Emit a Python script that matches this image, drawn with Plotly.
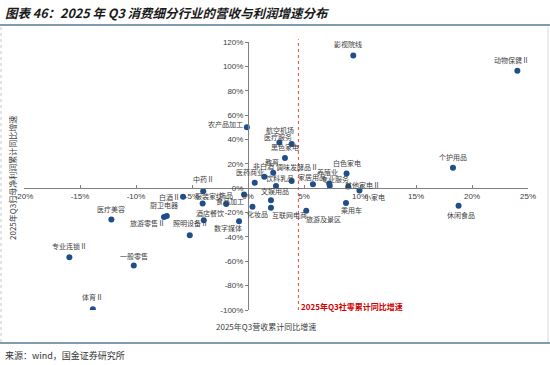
import plotly.graph_objects as go

# ---------------- data ----------------
industries = ["影视院线","动物保健Ⅱ","个护用品","休闲食品","农产品加工","航空机场","医疗服务","黑色家电","教育",
              "非白酒","医药商业","调味发酵品Ⅱ","饮料乳品","家居用品","养殖业","专业服务","白色家电","其他家电Ⅱ",
              "小家电","乘用车","旅游及景区","互联网电商","文娱用品","化妆品","数字媒体","饰品","食品加工","服装家纺",
              "中药Ⅱ","白酒Ⅱ","照明设备Ⅱ","酒店餐饮","厨卫电器","旅游零售Ⅱ","医疗美容","一般零售","专业连锁Ⅱ","体育Ⅱ"]
revenue_growth = [9.4, 24.05, 18.3, 18.8, -0.1, 2.8, 3.9, 3.3, 2.25,
                  1.45, 0.6, 3.9, 2.5, 5.8, 7.25, 7.3, 8.8, 8.95,
                  9.95, 8.75, 5.2, 2.05, 2.05, 0.4, -0.8, -1.95, -0.35, -4.05,
                  -4.0, -5.8, -5.2, -3.95, -7.5, -7.25, -12.2, -10.2, -15.95, -13.85]
profit_growth = [109, 96.4, 16.7, -14.5, 50, 37.5, 36.2, 24.7, 12.7,
                 9.4, 4.4, 5.8, 1.8, 3.3, 3.8, 1.9, 12.1, 1.3,
                 -1.9, -12.1, -18.6, -16, -10, -15.3, -27.2, -12.9, -5.2, -12.6,
                 -2.5, -7.1, -38.6, -26.3, -23.6, -22.8, -25.7, -63.5, -56.7, -99.4]
retail_sales_growth = 4.5

x_tick_vals = [-20, -15, -10, -5, 0, 5, 10, 15, 20, 25]
x_tick_text = ["-20%", "-15%", "-10%", "-5%", "0%", "5%", "10%", "15%", "20%", "25%"]
y_tick_vals = [-100, -80, -60, -40, -20, 0, 20, 40, 60, 80, 100, 120]
y_tick_text = ["-100%", "-80%", "-60%", "-40%", "-20%", "0%", "20%", "40%", "60%", "80%", "100%", "120%"]

title_text = "图表 46：2025 年 Q3 消费细分行业的营收与利润增速分布"
x_title = "2025年Q3营收累计同比增速"
y_title = "2025年Q3归母净利润累计同比增速"
line_label = "2025年Q3社零累计同比增速"
source_text = "来源：wind，国金证券研究所"

# ---------------- style ----------------
label_offsets = {
    "影视院线": (-5, 11), "动物保健Ⅱ": (-6, 11), "个护用品": (0, 11), "休闲食品": (2, -9),
    "农产品加工": (-21, 3), "航空机场": (1, 13), "医疗服务": (-14, 7), "黑色家电": (0, 11),
    "教育": (-1, 11), "非白酒": (-1, 11), "医药商业": (-5, 11), "调味发酵品Ⅱ": (5, 14),
    "饮料乳品": (4, 8), "家居用品": (-1, 7), "养殖业": (-2, 12), "专业服务": (5, 7),
    "白色家电": (0, 10), "其他家电Ⅱ": (14, 2), "小家电": (15, -6), "乘用车": (5, -7),
    "旅游及景区": (17, -8), "互联网电商": (19, -7), "文娱用品": (4, 9), "化妆品": (5, -7),
    "数字媒体": (-11, -7), "饰品": (0, 9), "食品加工": (-14, -6), "服装家纺": (6, 8),
    "中药Ⅱ": (0, 12), "白酒Ⅱ": (-14, 0), "照明设备Ⅱ": (1, 12), "酒店餐饮": (6, 7),
    "厨卫电器": (0, 12), "旅游零售Ⅱ": (-19, -7), "医疗美容": (0, 10), "一般零售": (0, 10),
    "专业连锁Ⅱ": (0, 11), "体育Ⅱ": (0, 12),
}

W, H = 550, 365
ML, MR, MT, MB = 24, 22, 42, 55
PW, PH = W - ML - MR, H - MT - MB
def px_x(px):
    return (px - ML) / PW
def px_y(py):
    return (H - MB - py) / PH

xr = [-20, 25]
yr = [-100, 120]
CJK = "Noto Sans CJK SC"
DOT = "#1f4e89"
TXT = "#404040"

fig = go.Figure()
fig.add_trace(go.Scatter(
    x=revenue_growth, y=profit_growth, mode="markers",
    marker=dict(size=6, color=DOT), text=industries, hoverinfo="text", showlegend=False,
))

annotations = []
for name, xv, yv in zip(industries, revenue_growth, profit_growth):
    dx, dy = label_offsets.get(name, (0, 10))
    annotations.append(dict(x=xv, y=yv, xref="x", yref="y", text=name, showarrow=False,
                            xanchor="center", yanchor="middle",
                            xshift=dx, yshift=dy, font=dict(family=CJK, size=7, color=TXT)))

annotations.append(dict(x=retail_sales_growth, y=-97, xref="x", yref="y", text="<b>" + line_label + "</b>",
                        showarrow=False, xanchor="left", yanchor="middle", xshift=1,
                        font=dict(family=CJK, size=8, color="#d00000")))
annotations.append(dict(x=px_x(266), y=px_y(326), xref="paper", yref="paper", text=x_title,
                        showarrow=False, xanchor="center", yanchor="middle",
                        font=dict(family=CJK, size=8, color=TXT)))
annotations.append(dict(x=px_x(12), y=px_y(178), xref="paper", yref="paper", text=y_title,
                        showarrow=False, textangle=-90, xanchor="center", yanchor="middle",
                        font=dict(family=CJK, size=8, color=TXT)))
annotations.append(dict(x=px_x(3), y=px_y(12), xref="paper", yref="paper", text="<b><i>" + title_text + "</i></b>",
                        showarrow=False, xanchor="left", yanchor="middle",
                        font=dict(family=CJK, size=12.5, color="#1a1a1a")))
annotations.append(dict(x=px_x(3), y=px_y(355), xref="paper", yref="paper", text=source_text,
                        showarrow=False, xanchor="left", yanchor="middle",
                        font=dict(family=CJK, size=9, color="#333333")))

shapes = [
    dict(type="line", xref="x", yref="paper", x0=retail_sales_growth, x1=retail_sales_growth, y0=0, y1=1.01,
         line=dict(color="#ff4040", width=1, dash="dot")),
    dict(type="line", xref="paper", yref="paper", x0=px_x(0), x1=px_x(550), y0=px_y(25), y1=px_y(25),
         line=dict(color="#7f9bb0", width=2)),
    dict(type="line", xref="paper", yref="paper", x0=px_x(0), x1=px_x(550), y0=px_y(343), y1=px_y(343),
         line=dict(color="#7f9bb0", width=2)),
    dict(type="line", xref="paper", yref="paper", x0=px_x(1), x1=px_x(1), y0=px_y(27), y1=px_y(342),
         line=dict(color="#c8c8c8", width=1, dash="dot")),
    dict(type="line", xref="paper", yref="paper", x0=px_x(548), x1=px_x(548), y0=px_y(27), y1=px_y(342),
         line=dict(color="#d8d8d8", width=1)),
]

axis_font = dict(family="Liberation Sans", size=8, color=TXT)
fig.update_layout(
    width=W, height=H, margin=dict(l=ML, r=MR, t=MT, b=MB),
    paper_bgcolor="white", plot_bgcolor="white",
    xaxis=dict(range=xr, tickvals=x_tick_vals, ticktext=x_tick_text, showgrid=False, zeroline=False,
               showline=True, linecolor="#808080", linewidth=1, ticks="inside", ticklen=3, tickcolor="#808080",
               anchor="free", position=(0 - yr[0]) / (yr[1] - yr[0]), tickfont=axis_font,
               ticklabeloverflow="allow"),
    yaxis=dict(range=yr, tickvals=y_tick_vals, ticktext=y_tick_text, showgrid=False, zeroline=False,
               showline=True, linecolor="#808080", linewidth=1, ticks="outside", ticklen=3, tickcolor="#808080",
               anchor="free", position=(0 - xr[0]) / (xr[1] - xr[0]), tickfont=axis_font,
               ticklabeloverflow="allow"),
    annotations=annotations, shapes=shapes,
)

fig.write_html("out.html", config={"displayModeBar": False},
               post_script="document.body.style.margin='0';document.body.style.overflow='hidden';")
